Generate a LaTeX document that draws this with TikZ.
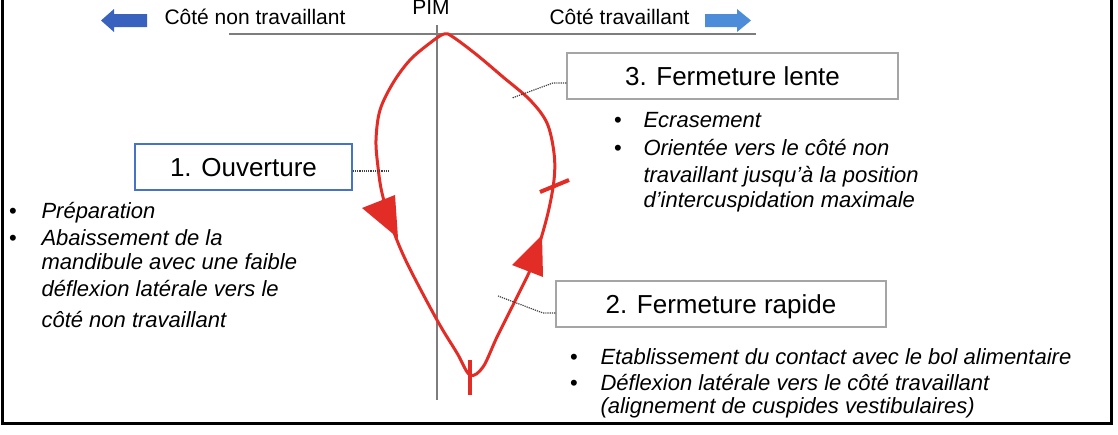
\documentclass[tikz,border=0pt]{standalone}
\usepackage{fontspec}
\setmainfont{Liberation Sans}
\usepackage{tikz}

\definecolor{boucle}{RGB}{226,44,38}
\definecolor{trait}{RGB}{125,125,125}
\definecolor{bleuG}{RGB}{56,98,190}
\definecolor{bleuD}{RGB}{76,140,216}
\definecolor{cadreB}{RGB}{70,115,200}
\definecolor{cadreG}{RGB}{165,165,165}

\begin{document}
\begin{tikzpicture}[x=1pt,y=-1pt,
  phase/.style={draw=cadreG,line width=1.5pt,minimum width=#1,minimum height=46pt,inner sep=0pt,
    text height=19pt,text depth=0pt,font=\fontsize{26}{30}\selectfont},
  cote/.style={font=\fontsize{21}{25}\selectfont,anchor=base west},
  puce/.style={font=\fontsize{22}{26}\selectfont\itshape,anchor=base west},
  lien/.style={densely dotted,draw=darkgray,line width=1.2pt}]
\useasboundingbox (0,0) rectangle (1118,434);
\draw[line width=3pt] (2.5,-10) -- (2.5,423.5) -- (1111.5,423.5) -- (1111.5,-10);
% axes
\draw[trait,line width=2pt] (229,34) -- (756,34);
\draw[trait,line width=2pt] (437,25) -- (437,400);
\fill[bleuG] (101,20.5) -- (114,9) -- (114,14) -- (147,14) -- (147,27) -- (114,27) -- (114,32) -- cycle;
\fill[bleuD] (751,20.5) -- (737,9) -- (737,14) -- (705,14) -- (705,27) -- (737,27) -- (737,32) -- cycle;
\node[cote] (nontrav) at (161,24) {Côté non travaillant};
\node[cote] (trav) at (546,24) {Côté travaillant};
\node[cote,anchor=base] (pim) at (431,14) {PIM};
% cycle
\draw[boucle,line width=3pt] plot[smooth cycle,tension=0.55] coordinates {(444,34) (430,43) (410,60) (393,83)
  (380,110) (376,140) (378,167) (382,193) (392,227) (407,263) (437,320) (457,353) (470,375) (483,367)
  (497,337) (517,297) (533,263) (547,217) (554,180) (554,153) (547,123) (530,100) (503,77) (477,55) (453,37)};
\fill[boucle] (362,208) -- (395,195) -- (398,238) -- cycle;
\fill[boucle] (512,265) -- (543,277) -- (542,235) -- cycle;
\draw[boucle,line width=4pt] (470,360) -- (470,395);
\draw[boucle,line width=4pt] (540,192) -- (569,180);
% phases
\node[phase=217pt,draw=cadreB] (ouv) at (243.5,167) {1. Ouverture};
\node[phase=331pt] (lente) at (732.5,76) {3. Fermeture lente};
\node[phase=330pt] (rapide) at (721,304) {2. Fermeture rapide};
\coordinate (p1) at (389,171);
\coordinate (k3) at (553,83);
\coordinate (p3) at (512,98);
\coordinate (k2) at (543,313);
\coordinate (p2) at (498,296);
\draw[lien] (ouv.east |- p1) -- (p1);
\draw[lien] (lente.west |- k3) -- (k3) -- (p3);
\draw[lien] (rapide.west |- k2) -- (k2) -- (p2);
% listes
\foreach \y/\t in {218/{Préparation},245/{Abaissement de la},269/{mandibule avec une faible},
  296/{déflexion latérale vers le},327/{côté non travaillant}}
  \node[puce] (g\y) at (38,\y) {\t};
\foreach \y in {218,245} \node[puce,anchor=base,font=\fontsize{22}{26}\selectfont] (bg\y) at (13,\y) {•};
\foreach \y/\t in {127/{Ecrasement},155/{Orientée vers le côté non},182/{travaillant jusqu’à la position},
  207/{d’intercuspidation maximale}}
  \node[puce] (l\y) at (640,\y) {\t};
\foreach \y in {127,155} \node[puce,anchor=base,font=\fontsize{22}{26}\selectfont] (bl\y) at (618,\y) {•};
\foreach \y/\t in {364/{Etablissement du contact avec le bol alimentaire},390/{Déflexion latérale vers le côté travaillant},
  413/{(alignement de cuspides vestibulaires)}}
  \node[puce] (r\y) at (597,\y) {\t};
\foreach \y in {364,390} \node[puce,anchor=base,font=\fontsize{22}{26}\selectfont] (br\y) at (574,\y) {•};
\end{tikzpicture}
\end{document}
